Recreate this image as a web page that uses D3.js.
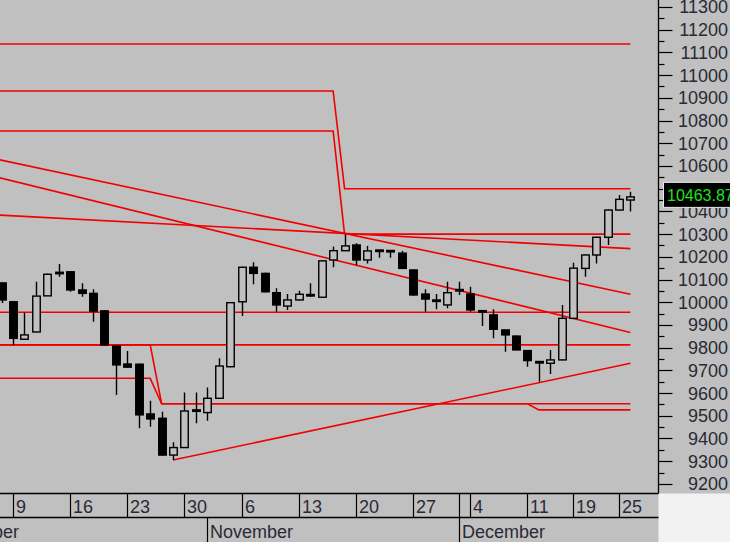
<!DOCTYPE html>
<html><head><meta charset="utf-8">
<script src="https://cdn.jsdelivr.net/npm/d3@7/dist/d3.min.js"></script>
<style>
body{margin:0;background:#c0c0c0;overflow:hidden}
svg{display:block;font-family:"Liberation Sans",Arial,sans-serif}
</style>
</head><body>
<svg id="chart" width="730" height="542"></svg>
<script>
// ---- categories: trading days (month-day) ----
const tradingDays = [
  "10-02","10-03","10-04","10-05","10-06","10-09","10-10","10-11","10-12","10-13",
  "10-16","10-17","10-18","10-19","10-20","10-23","10-24","10-25","10-26","10-27",
  "10-30","10-31","11-01","11-02","11-03","11-06","11-07","11-08","11-09","11-10",
  "11-13","11-14","11-15","11-16","11-17","11-20","11-21","11-22","11-23","11-24",
  "11-27","11-28","11-29","11-30","12-01","12-04","12-05","12-06","12-07","12-08",
  "12-11","12-12","12-13","12-14","12-19","12-20","12-21","12-22","12-25","12-26"
];
// ---- candle series (visible days) ----
const candleDates = [
  "10-06","10-09","10-10","10-11","10-12","10-13","10-16","10-17","10-18","10-19","10-20",
  "10-23","10-24","10-25","10-26","10-27","10-30","10-31","11-01","11-02","11-03",
  "11-06","11-07","11-08","11-09","11-10","11-13","11-14","11-15","11-16","11-17",
  "11-20","11-21","11-22","11-23","11-24","11-27","11-28","11-29","11-30","12-01",
  "12-04","12-05","12-06","12-07","12-08","12-11","12-12","12-13","12-14",
  "12-19","12-20","12-21","12-22","12-25","12-26"
];
const openVals = [
  10085,10002,9837,9869,10028,10132,10134,10054,10039,9962,9807,
  9728,9727,9508,9489,9327,9360,9526,9514,9577,9716,
  10002,10154,10127,10042,9983,10010,10034,10022,10186,10227,
  10252,10186,10230,10228,10216,10142,10036,10010,9988,10053,
  10036,9963,9944,9878,9851,9787,9739,9731,9746,
  9929,10149,10208,10286,10406,10450
];
const highVals = [
  10086,10003,9954,10090,10127,10168,10135,10083,10057,9965,9810,
  9785,9730,9566,9518,9383,9602,9602,9625,9753,10000,
  10156,10176,10130,10061,10036,10050,10083,10184,10245,10296,
  10260,10248,10231,10229,10226,10145,10057,10036,10090,10090,
  10068,9964,9969,9879,9853,9790,9741,9790,9988,
  10174,10210,10288,10408,10472,10487
];
const lowVals = [
  9997,9812,9835,9868,10027,10112,10046,10024,9914,9810,9592,
  9712,9445,9452,9325,9305,9358,9467,9478,9576,9714,
  9939,10079,10043,9958,9966,10008,10024,10020,10154,10225,
  10164,10171,10196,10196,10147,10028,9958,9969,9973,10032,
  9958,9895,9841,9782,9788,9716,9650,9684,9744,
  9927,10112,10171,10252,10404,10399
];
const closeVals = [
  10010,9841,9856,10027,10123,10126,10054,10039,9961,9812,9724,
  9714,9504,9486,9327,9360,9521,9522,9577,9719,9998,
  10154,10127,10046,9988,10010,10035,10030,10182,10227,10248,
  10186,10226,10229,10226,10149,10032,10014,10007,10042,10056,
  9966,9961,9881,9856,9790,9743,9737,9746,9929,
  10150,10208,10286,10406,10453,10463.87
];
const lastPrice = 10463.87;

// ---- red study lines: [day, value] vertices ----
const levelTop   = [["10-02",11137],["12-26",11137]];
const levelMid   = [["10-02",9956],["12-26",9956]];
const levelLow   = [["10-02",9812],["12-26",9812]];
const stopA = [["10-02",10930],["11-16",10930],["11-17",10500],["12-26",10500]];
const stopB = [["10-02",10754],["11-16",10754],["11-17",10300],["12-26",10300]];
const stopC = [["10-02",9812],["10-25",9812],["10-26",9553],["12-26",9553]];
const stopD = [["10-02",9665],["10-25",9665],["10-26",9553],["12-11",9553],["12-12",9526],["12-26",9526]];
const trendShallow = [["10-02",10394],["12-26",10236]];
const trendUpper   = [["10-02",10668],["12-26",10035]];
const trendLower   = [["10-02",10595],["12-26",9867]];
const trendRising  = [["10-27",9305],["12-26",9731]];
const studyLines = [levelTop, levelMid, levelLow, stopA, stopB, stopC, stopD,
                    trendShallow, trendUpper, trendLower, trendRising];

// ---- axis labels ----
const yTickValues = [9200,9300,9400,9500,9600,9700,9800,9900,10000,10100,10200,
                     10300,10400,10500,10600,10700,10800,10900,11000,11100,11200,11300];
const yMinorValues = [9250,9350,9450,9550,9650,9750,9850,9950,10050,10150,10250,
                      10350,10450,10550,10650,10750,10850,10950,11050,11150,11250];
const weekDays   = ["10-09","10-16","10-23","10-30","11-06","11-13","11-20","11-27","12-01","12-04","12-11","12-19","12-25"];
const weekLabels = ["9","16","23","30","6","13","20","27","","4","11","19","25"];
const monthDays   = ["10-02","11-01","12-01"];
const monthLabels = ["October","November","December"];

// ---- layout ----
const W = 730, H = 542;
const plotRight = 658.5, plotBottom = 493.5, rowMid = 517.5;
const BG = "#c0c0c0";

const svg = d3.select("#chart");
const x = d3.scalePoint().domain(tradingDays).range([-44.17, 630.4]);
const y = d3.scaleLinear().domain([9200, 11300]).range([483.9, 7]);

svg.append("rect").attr("width", W).attr("height", H).attr("fill", BG);
svg.append("rect").attr("x", plotRight).attr("y", plotBottom)
  .attr("width", W - plotRight).attr("height", H - plotBottom).attr("fill", "#f2f2f2");

svg.append("defs").append("clipPath").attr("id", "plotClip")
  .append("rect").attr("x", 0).attr("y", 0).attr("width", plotRight).attr("height", plotBottom);

const plot = svg.append("g").attr("clip-path", "url(#plotClip)");

// study lines
const lineGen = d3.line().x(d => x(d[0])).y(d => y(d[1]));
plot.append("g").selectAll("path").data(studyLines).join("path")
  .attr("d", lineGen).attr("fill", "none")
  .attr("stroke", "#f00000").attr("stroke-width", 1.6);

// candles
const candles = candleDates.map((d, i) => ({d, o: openVals[i], h: highVals[i], l: lowVals[i], c: closeVals[i]}));
const bodyW = 7.5;
const cg = plot.append("g").selectAll("g").data(candles).join("g");
cg.append("line")
  .attr("x1", d => Math.round(x(d.d)) + 0.5).attr("x2", d => Math.round(x(d.d)) + 0.5)
  .attr("y1", d => y(d.h)).attr("y2", d => y(d.l))
  .attr("stroke", "#000").attr("stroke-width", 1.4);
cg.append("rect")
  .attr("x", d => Math.round(x(d.d)) + 0.5 - bodyW / 2)
  .attr("y", d => y(Math.max(d.o, d.c)))
  .attr("width", bodyW)
  .attr("height", d => Math.max(1.5, y(Math.min(d.o, d.c)) - y(Math.max(d.o, d.c))))
  .attr("fill", d => d.c < d.o ? "#000" : BG)
  .attr("stroke", "#000").attr("stroke-width", 1.4);

// right axis
const ax = svg.append("g");
ax.append("line").attr("x1", plotRight).attr("x2", plotRight).attr("y1", 0).attr("y2", plotBottom)
  .attr("stroke", "#000").attr("stroke-width", 1.3);
ax.selectAll("line.maj").data(yTickValues).join("line").attr("class", "maj")
  .attr("x1", plotRight).attr("x2", plotRight + 14)
  .attr("y1", d => Math.round(y(d)) + 0.5).attr("y2", d => Math.round(y(d)) + 0.5)
  .attr("stroke", "#000").attr("stroke-width", 1.2);
ax.selectAll("line.min").data(yMinorValues).join("line").attr("class", "min")
  .attr("x1", plotRight).attr("x2", plotRight + 6)
  .attr("y1", d => Math.round(y(d)) + 0.5).attr("y2", d => Math.round(y(d)) + 0.5)
  .attr("stroke", "#000").attr("stroke-width", 1.2);
ax.selectAll("text").data(yTickValues).join("text")
  .attr("x", 728).attr("y", d => y(d)).attr("dy", "0.36em")
  .attr("text-anchor", "end").attr("font-size", 18).attr("fill", "#2a2a36")
  .text(d => d);

// last price label (covers the axis labels behind it, as in the original)
const lp = svg.append("g");
const lpTop = y(lastPrice) - 14.5;
lp.append("rect").attr("x", 663.5).attr("y", lpTop).attr("width", 80).attr("height", 25)
  .attr("fill", "#000").attr("stroke", "#e8e8e8").attr("stroke-width", 1);
lp.append("text").attr("x", 667).attr("y", lpTop + 12.5).attr("dy", "0.36em")
  .attr("font-size", 16).attr("fill", "#20e020").text(lastPrice.toFixed(2));

// bottom date axis
const bx = svg.append("g");
bx.append("line").attr("x1", 0).attr("x2", plotRight).attr("y1", plotBottom).attr("y2", plotBottom)
  .attr("stroke", "#000").attr("stroke-width", 1.3);
bx.append("line").attr("x1", 0).attr("x2", plotRight).attr("y1", rowMid).attr("y2", rowMid)
  .attr("stroke", "#000").attr("stroke-width", 1.3);
bx.selectAll("line.wk").data(weekDays).join("line").attr("class", "wk")
  .attr("x1", d => Math.round(x(d)) + 0.5).attr("x2", d => Math.round(x(d)) + 0.5)
  .attr("y1", plotBottom).attr("y2", rowMid)
  .attr("stroke", "#000").attr("stroke-width", 1.2);
bx.selectAll("text.wk").data(weekDays).join("text").attr("class", "wk")
  .attr("x", d => Math.round(x(d)) + 3).attr("y", 513)
  .attr("font-size", 18).attr("fill", "#2a2a36")
  .text((d, i) => weekLabels[i]);
bx.selectAll("line.mo").data(monthDays).join("line").attr("class", "mo")
  .attr("x1", d => Math.round(x(d)) + 0.5).attr("x2", d => Math.round(x(d)) + 0.5)
  .attr("y1", rowMid).attr("y2", H)
  .attr("stroke", "#000").attr("stroke-width", 1.2);
bx.selectAll("text.mo").data(monthDays).join("text").attr("class", "mo")
  .attr("x", (d, i) => Math.round(x(d)) + (i === 0 ? -1 : 3)).attr("y", 538)
  .attr("font-size", 18).attr("fill", "#2a2a36")
  .text((d, i) => monthLabels[i]);
</script>
</body></html>
